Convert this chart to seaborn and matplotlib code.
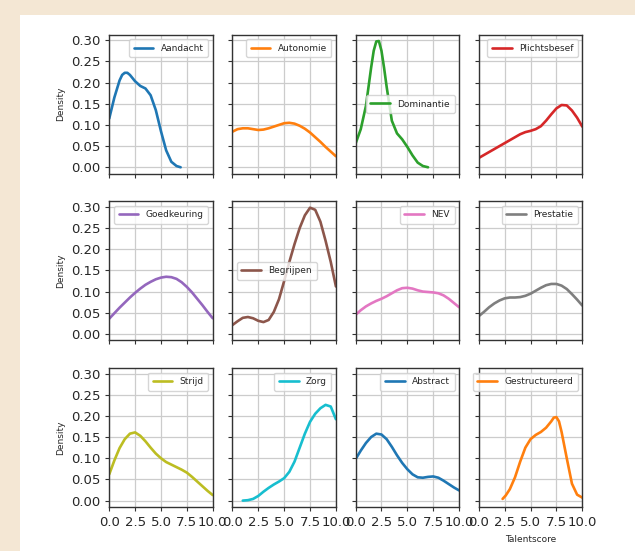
import numpy as np
import pandas as pd
import matplotlib.pyplot as plt
from matplotlib.patches import Rectangle
import seaborn as sns

# Talent scales, in plotting order (3 rows x 4 columns)
talents = ["Aandacht", "Autonomie", "Dominantie", "Plichtsbesef",
           "Goedkeuring", "Begrijpen", "NEV", "Prestatie",
           "Strijd", "Zorg", "Abstract", "Gestructureerd"]

# x positions (talent score) at which the density curves were read
x_full = [0.0, 0.5, 1.0, 1.5, 2.0, 2.5, 3.0, 3.5, 4.0, 4.5, 5.0,
          5.5, 6.0, 6.5, 7.0, 7.5, 8.0, 8.5, 9.0, 9.5, 10.0]
x_aandacht = [0.0, 0.5, 1.0, 1.25, 1.5, 1.75, 2.0, 2.5, 3.0, 3.5, 4.0, 4.5, 5.0,
              5.5, 6.0, 6.5, 6.9]
x_dominantie = [0.0, 0.5, 1.0, 1.5, 1.75, 2.0, 2.25, 2.5, 2.75, 3.0, 3.5, 4.0, 4.5,
                5.0, 5.5, 6.0, 6.5, 7.0]
x_zorg = [1.0, 1.5, 2.0, 2.5, 3.0, 3.5, 4.0, 4.5, 5.0, 5.5, 6.0, 6.5, 7.0, 7.5, 8.0,
          8.5, 9.0, 9.5, 10.0]
x_gestructureerd = [2.3, 2.6, 3.0, 3.5, 4.0, 4.5, 5.0, 5.5, 6.0, 6.5, 7.0, 7.25, 7.5,
                    7.75, 8.0, 8.5, 9.0, 9.5, 10.0]

# density values
aandacht = [0.115, 0.165, 0.205, 0.218, 0.223, 0.223, 0.218, 0.203, 0.192, 0.186,
            0.170, 0.135, 0.085, 0.040, 0.013, 0.003, 0.0]
autonomie = [0.084, 0.090, 0.092, 0.092, 0.090, 0.088, 0.089, 0.092, 0.096, 0.100, 0.104,
             0.105, 0.103, 0.098, 0.091, 0.082, 0.071, 0.060, 0.048, 0.037, 0.026]
dominantie = [0.056, 0.090, 0.145, 0.235, 0.275, 0.297, 0.298, 0.275, 0.235, 0.190,
              0.110, 0.080, 0.066, 0.048, 0.028, 0.011, 0.003, 0.0]
plichtsbesef = [0.022, 0.029, 0.036, 0.043, 0.050, 0.057, 0.064, 0.071, 0.078, 0.083, 0.086,
                0.090, 0.097, 0.110, 0.125, 0.139, 0.147, 0.146, 0.134, 0.117, 0.096]
goedkeuring = [0.036, 0.049, 0.062, 0.074, 0.086, 0.097, 0.107, 0.116, 0.123, 0.129, 0.133,
               0.135, 0.134, 0.130, 0.122, 0.111, 0.098, 0.083, 0.068, 0.052, 0.037]
begrijpen = [0.021, 0.030, 0.038, 0.040, 0.037, 0.031, 0.028, 0.033, 0.052, 0.082, 0.125,
             0.170, 0.212, 0.250, 0.280, 0.298, 0.293, 0.265, 0.220, 0.170, 0.112]
nev = [0.045, 0.056, 0.065, 0.072, 0.078, 0.083, 0.089, 0.096, 0.103, 0.108, 0.109,
       0.107, 0.103, 0.100, 0.099, 0.098, 0.096, 0.091, 0.083, 0.073, 0.063]
prestatie = [0.042, 0.052, 0.063, 0.072, 0.079, 0.084, 0.086, 0.086, 0.087, 0.090, 0.095,
             0.102, 0.109, 0.115, 0.118, 0.118, 0.114, 0.106, 0.094, 0.081, 0.067]
strijd = [0.062, 0.095, 0.124, 0.145, 0.158, 0.161, 0.153, 0.140, 0.125, 0.111, 0.100,
          0.091, 0.085, 0.079, 0.073, 0.066, 0.056, 0.045, 0.034, 0.023, 0.013]
zorg = [0.0, 0.001, 0.004, 0.011, 0.021, 0.030, 0.038, 0.045, 0.053, 0.068, 0.092,
        0.125, 0.158, 0.186, 0.205, 0.218, 0.226, 0.222, 0.192]
abstract = [0.098, 0.118, 0.136, 0.150, 0.158, 0.156, 0.145, 0.127, 0.107, 0.089, 0.074,
            0.062, 0.055, 0.054, 0.056, 0.057, 0.054, 0.047, 0.039, 0.031, 0.024]
gestructureerd = [0.004, 0.012, 0.027, 0.055, 0.092, 0.125, 0.145, 0.155, 0.162, 0.172,
                  0.187, 0.196, 0.197, 0.187, 0.162, 0.100, 0.040, 0.014, 0.007]

curves = {
    "Aandacht": (x_aandacht, aandacht),
    "Autonomie": (x_full, autonomie),
    "Dominantie": (x_dominantie, dominantie),
    "Plichtsbesef": (x_full, plichtsbesef),
    "Goedkeuring": (x_full, goedkeuring),
    "Begrijpen": (x_full, begrijpen),
    "NEV": (x_full, nev),
    "Prestatie": (x_full, prestatie),
    "Strijd": (x_full, strijd),
    "Zorg": (x_zorg, zorg),
    "Abstract": (x_full, abstract),
    "Gestructureerd": (x_gestructureerd, gestructureerd),
}

legend_loc = {"Dominantie": "center right", "Begrijpen": "center left"}

sns.set_style("ticks", {"axes.grid": True, "grid.color": "#cccccc",
                        "axes.edgecolor": "#333333"})
plt.rcParams["font.family"] = ["DejaVu Sans"]

fig, axes = plt.subplots(3, 4, figsize=(6.35, 5.51), dpi=100, sharey=True)
fig.patch.set_facecolor("#f4e7d4")
fig.add_artist(Rectangle((20 / 635, 0), 1, 1 - 15 / 551, transform=fig.transFigure,
                         facecolor="white", edgecolor="none", zorder=-1))
fig.subplots_adjust(left=0.172, right=0.917, top=0.937, bottom=0.080,
                    wspace=0.19, hspace=0.20)

palette = sns.color_palette("tab10")

for i, (name, ax) in enumerate(zip(talents, axes.flat)):
    xs, ys = curves[name]
    df = pd.DataFrame({"score": xs, "density": ys})
    sns.lineplot(data=df, x="score", y="density", ax=ax, color=palette[i % 10],
                 linewidth=1.9, label=name)
    ax.set_xlim(0, 10)
    ax.set_xticks([0, 2.5, 5.0, 7.5, 10.0])
    ax.grid(True, color="#cccccc", linewidth=0.9)
    ax.tick_params(axis="both", labelsize=9.5, length=3, color="#333333")
    for sp in ax.spines.values():
        sp.set_linewidth(1.0)
    ax.legend(loc=legend_loc.get(name, "upper right"), fontsize=6.5,
              handlelength=2.2, borderpad=0.5)
    ax.set_xlabel("")
    ax.set_ylabel("Density" if i % 4 == 0 else "", fontsize=6.5)
    if i < 8:
        ax.tick_params(axis="x", labelbottom=False)

axes[0, 0].set_yticks([0.0, 0.05, 0.10, 0.15, 0.20, 0.25, 0.30])
axes[0, 0].yaxis.set_major_formatter(plt.FormatStrFormatter("%.2f"))
axes[-1, -1].set_xlabel("Talentscore", fontsize=6.5)

fig.savefig("out.png", dpi=100)
